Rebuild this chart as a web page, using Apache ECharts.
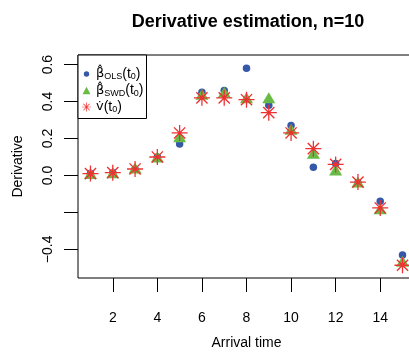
<!DOCTYPE html>
<html>
<head>
<meta charset="utf-8">
<script src="https://cdn.jsdelivr.net/npm/echarts@6/dist/echarts.min.js"></script>
<style>
  html, body { margin: 0; padding: 0; background: #fff; }
  #chart { width: 409px; height: 353px; }
</style>
</head>
<body>
<div id="chart"></div>
<script>
// Arrival times and the three derivative estimates at each time
const arrivalTimes = [1, 2, 3, 4, 5, 6, 7, 8, 9, 10, 11, 12, 13, 14, 15];
const olsEstimates = [0.01, 0.015, 0.035, 0.10, 0.17, 0.45, 0.46, 0.58, 0.38, 0.27, 0.045, 0.065, -0.04, -0.14, -0.43];
const swdEstimates = [0.01, 0.015, 0.04, 0.10, 0.21, 0.44, 0.45, 0.42, 0.42, 0.25, 0.12, 0.03, -0.035, -0.18, -0.465];
const trueDerivative = [0.01, 0.015, 0.035, 0.10, 0.23, 0.42, 0.42, 0.41, 0.34, 0.23, 0.145, 0.06, -0.036, -0.176, -0.486];

// Tick positions and labels
const xTicks = [2, 4, 6, 8, 10, 12, 14];
const yTicks = [-0.4, -0.2, 0, 0.2, 0.4, 0.6];
const yLabels = [-0.4, 0, 0.2, 0.4, 0.6];

const FONT = "'Liberation Sans', Arial, Helvetica, sans-serif";
const BLUE = '#3558A8';
const GREEN = '#68BB45';
const RED = '#EE3030';

// Eight-spoke asterisk built from four bars
const ASTERISK = 'path://M0 46 H100 V54 H0 Z M46 0 H54 V100 H46 Z ' +
  'M12 18 L18 12 L88 82 L82 88 Z M82 12 L88 18 L18 88 L12 82 Z';
// Smaller circle inside a fixed 100x100 frame (for the legend key)
const SMALL_DOT = 'path://M0 0 M100 100 M50 20 A30 30 0 1 1 50 80 A30 30 0 1 1 50 20 Z';
// Slightly inset triangle for the legend key
const SMALL_TRI = 'path://M0 0 M100 100 M50 8 L94 92 L6 92 Z';

const pairs = vals => arrivalTimes.map((t, i) => [t, vals[i]]);
const fmtNum = v => v.toFixed(1).replace('-', '\u2212');

const legendText = {
  ols: '{g|\u03B2\u0302}{s|OLS}{m|(t}{s|0}{m|)}',
  swd: '{g|\u03B2\u0302}{s|SWD}{m|(t}{s|0}{m|)}',
  v: '{g|v\u0307}{m|(t}{s|0}{m|)}'
};

const chart = echarts.init(document.getElementById('chart'), null, { renderer: 'canvas' });

chart.setOption({
  animation: false,
  backgroundColor: '#fff',
  textStyle: { fontFamily: FONT, color: '#000' },
  title: {
    text: 'Derivative estimation, n=10',
    left: 243, top: 8, textAlign: 'center',
    textStyle: { fontFamily: FONT, fontSize: 18, fontWeight: 'bold', color: '#000' }
  },
  grid: {
    left: 78, top: 55, right: -6, bottom: 75,
    show: true, borderColor: '#000', borderWidth: 1, backgroundColor: 'transparent',
    containLabel: false, outerBoundsMode: 'none'
  },
  legend: {
    orient: 'vertical', left: 78, top: 55,
    padding: [12, 3, 4, 4], itemGap: 2,
    itemWidth: 9, itemHeight: 9,
    backgroundColor: '#fff', borderColor: '#000', borderWidth: 1,
    selectedMode: false,
    data: [
      { name: 'ols', icon: SMALL_DOT },
      { name: 'swd', icon: SMALL_TRI },
      { name: 'v', icon: ASTERISK }
    ],
    formatter: name => legendText[name],
    textStyle: {
      fontFamily: FONT, color: '#000',
      rich: {
        g: { fontFamily: "'DejaVu Sans', sans-serif", fontSize: 13, lineHeight: 15, color: '#000' },
        m: { fontFamily: FONT, fontSize: 14, lineHeight: 15, color: '#000' },
        s: { fontFamily: FONT, fontSize: 9, lineHeight: 9, verticalAlign: 'bottom', color: '#000' }
      }
    }
  },
  xAxis: {
    type: 'value', min: 0.44, max: 15.56,
    name: 'Arrival time', nameLocation: 'middle', nameGap: 58,
    nameTextStyle: { fontFamily: FONT, fontSize: 14, color: '#000' },
    axisLine: { show: false, onZero: false },
    splitLine: { show: false },
    axisTick: { show: true, length: 14, inside: false, customValues: xTicks, lineStyle: { color: '#000', width: 1 } },
    axisLabel: { customValues: xTicks, margin: 33, fontFamily: FONT, fontSize: 14, color: '#000' }
  },
  yAxis: {
    type: 'value', min: -0.555, max: 0.652,
    name: 'Derivative', nameLocation: 'middle', nameGap: 53, nameRotate: 90,
    nameTextStyle: { fontFamily: FONT, fontSize: 14, color: '#000' },
    axisLine: { show: false, onZero: false },
    splitLine: { show: false },
    axisTick: { show: true, length: 14, inside: false, customValues: yTicks, lineStyle: { color: '#000', width: 1 } },
    axisLabel: {
      customValues: yLabels, rotate: 90, margin: 23,
      fontFamily: FONT, fontSize: 14, color: '#000',
      formatter: v => fmtNum(v)
    }
  },
  series: [
    {
      name: 'ols', type: 'scatter', data: pairs(olsEstimates),
      symbol: 'circle', symbolSize: 7.5, z: 2,
      itemStyle: { color: BLUE, opacity: 1 }
    },
    {
      name: 'swd', type: 'scatter', data: pairs(swdEstimates),
      symbol: 'triangle', symbolSize: [13, 11], z: 3,
      itemStyle: { color: GREEN, opacity: 1 }
    },
    {
      name: 'v', type: 'scatter', data: pairs(trueDerivative),
      symbol: ASTERISK, symbolSize: 16, z: 4,
      itemStyle: { color: RED, opacity: 1 }
    }
  ]
});
</script>
</body>
</html>
